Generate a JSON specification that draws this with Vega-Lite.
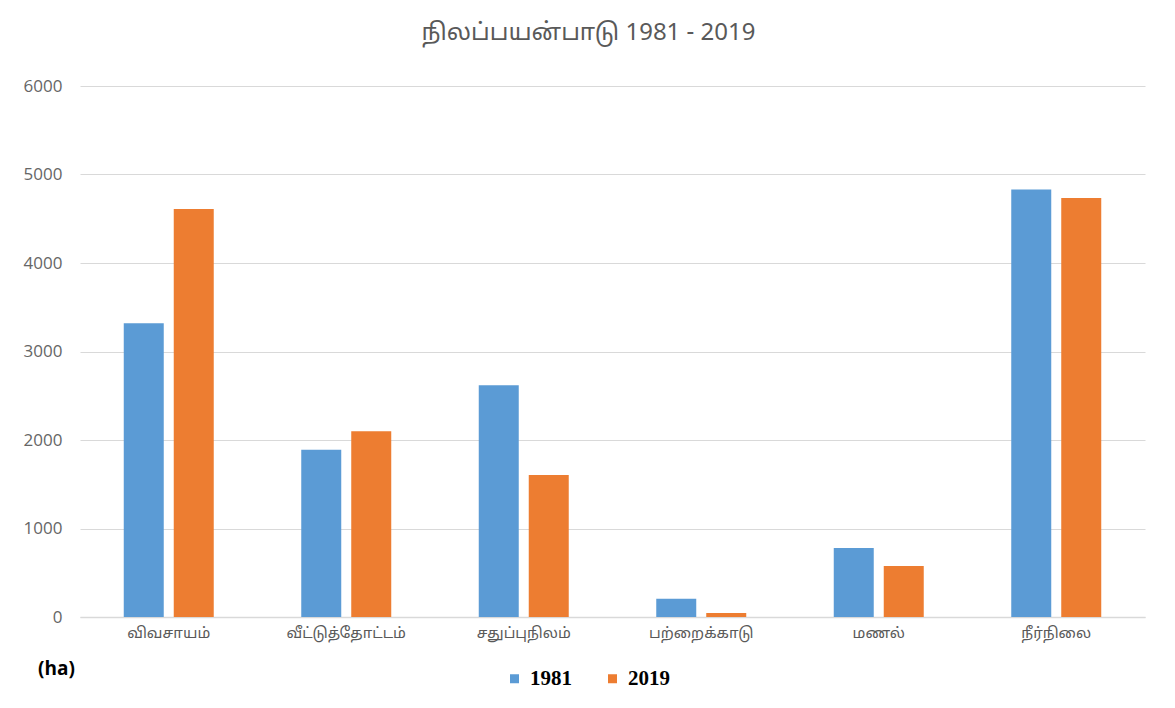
{
  "$schema": "https://vega.github.io/schema/vega-lite/v6.json",
  "width": 1065,
  "height": 531,
  "autosize": "none",
  "padding": {"left": 80, "top": 86, "right": 30, "bottom": 91},
  "background": "white",
  "title": {
    "text": "நிலப்பயன்பாடு  1981 - 2019",
    "fontSize": 24,
    "font": "Noto Sans Tamil",
    "fontWeight": "normal",
    "color": "#595959",
    "anchor": "middle",
    "dx": -24,
    "offset": 32
  },
  "data": {
    "values": [
      {"category": "விவசாயம்", "year": "1981", "value": 3320},
      {"category": "விவசாயம்", "year": "2019", "value": 4610},
      {"category": "வீட்டுத்தோட்டம்", "year": "1981", "value": 1890},
      {"category": "வீட்டுத்தோட்டம்", "year": "2019", "value": 2100},
      {"category": "சதுப்புநிலம்", "year": "1981", "value": 2620},
      {"category": "சதுப்புநிலம்", "year": "2019", "value": 1605},
      {"category": "பற்றைக்காடு", "year": "1981", "value": 205},
      {"category": "பற்றைக்காடு", "year": "2019", "value": 45},
      {"category": "மணல்", "year": "1981", "value": 780},
      {"category": "மணல்", "year": "2019", "value": 575},
      {"category": "நீர்நிலை", "year": "1981", "value": 4830},
      {"category": "நீர்நிலை", "year": "2019", "value": 4735}
    ]
  },
  "mark": {"type": "bar"},
  "encoding": {
    "x": {
      "field": "category",
      "type": "nominal",
      "sort": null,
      "scale": {"paddingInner": 0.493, "paddingOuter": 0.2465},
      "axis": {
        "title": null,
        "labelAngle": 0,
        "labelFontSize": 15,
        "labelFont": "Noto Sans Tamil",
        "labelColor": "#595959",
        "labelPadding": 8,
        "ticks": false,
        "domainColor": "#d9d9d9",
        "domainWidth": 1.5
      }
    },
    "xOffset": {
      "field": "year",
      "type": "nominal",
      "scale": {"paddingInner": 0.2, "paddingOuter": 0}
    },
    "y": {
      "field": "value",
      "type": "quantitative",
      "scale": {"domain": [0, 6000]},
      "axis": {
        "values": [0, 1000, 2000, 3000, 4000, 5000, 6000],
        "format": "d",
        "title": "(ha)",
        "titleAngle": 0,
        "titleX": -24,
        "titleY": 582,
        "titleAlign": "center",
        "titleBaseline": "middle",
        "titleFontSize": 19,
        "titleFont": "Open Sans",
        "titleFontWeight": "bold",
        "titleColor": "#000000",
        "labelFontSize": 17,
        "labelFont": "Open Sans",
        "labelColor": "#666666",
        "labelPadding": 18,
        "ticks": false,
        "domain": false,
        "gridColor": "#d9d9d9",
        "gridWidth": 1.2
      }
    },
    "color": {
      "field": "year",
      "type": "nominal",
      "scale": {"domain": ["1981", "2019"], "range": ["#5B9BD5", "#ED7D31"]},
      "legend": {
        "title": null,
        "orient": "none",
        "direction": "horizontal",
        "legendX": 424,
        "legendY": 582,
        "symbolType": "square",
        "symbolSize": 81,
        "symbolStrokeWidth": 0,
        "labelFont": "Liberation Serif",
        "labelFontWeight": "bold",
        "labelFontSize": 21,
        "labelColor": "#000000",
        "labelOffset": 5,
        "columnPadding": 30
      }
    }
  },
  "config": {
    "view": {"stroke": null}
  }
}
